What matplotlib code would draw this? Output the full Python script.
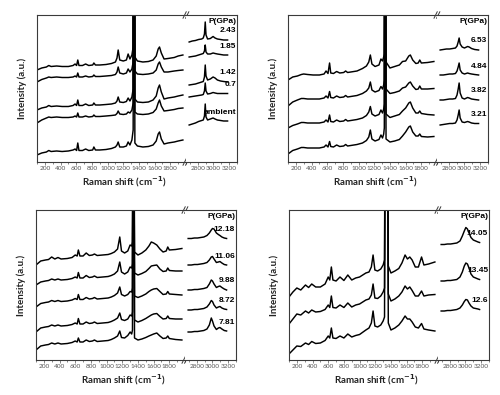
import matplotlib.pyplot as plt
from matplotlib.ticker import MultipleLocator

plt.rcParams['font.family'] = ['Lato', 'DejaVu Sans']

# ---------------- data (wavenumber in cm-1, stacked intensity in a.u.) ----------------
# panel A: 0 - 2.43 GPa
wn_a_lo = [100, 160, 220, 250, 280, 350, 420, 500, 560, 585, 605, 620, 635, 680, 720, 760, 810, 825, 845,
           900, 980, 1050, 1100, 1120, 1135, 1155, 1200, 1240, 1262, 1285, 1310, 1326, 1336, 1348, 1380,
           1450, 1520, 1580, 1620, 1645, 1662, 1685, 1720, 1770, 1850, 1900, 1960]
wn_a_hi = [2690, 2730, 2770, 2810, 2850, 2870, 2885, 2895, 2905, 2925, 2960, 2995, 3020, 3050, 3090, 3130, 3180]
a_243_lo = [92, 94, 95, 96.5, 95.5, 96, 95.5, 95.5, 96.5, 98, 96.5, 102, 96.5, 96.5, 98, 96.5, 97, 99, 97,
            97, 97.5, 98.5, 100, 104, 112, 102, 101, 102, 108, 103, 107, 115, 400, 105, 101,
            100, 100.5, 102, 106, 113, 115, 109, 103, 103.5, 104.5, 106, 107]
a_243_hi = [120, 121, 121.5, 122.5, 123, 124, 128, 140, 127, 123, 123.5, 125.5, 124, 123, 122.5, 122, 122]
a_185_lo = [80, 82.5, 84, 85, 84.5, 85, 84.5, 84.5, 85, 86, 85, 89, 85, 85, 86, 85, 85.5, 87, 85.5,
            85.5, 86, 86.5, 87.5, 90, 95, 89, 88, 89, 93, 90, 93, 100, 400, 91, 88,
            87.5, 88, 89, 92, 98, 100, 95, 90, 90, 91, 91.5, 92]
a_185_hi = [105, 105.5, 106, 107, 108, 108.5, 111, 117, 110, 108, 108, 109, 108.5, 108, 107.5, 107, 107]
a_142_lo = [52, 54, 55, 56.5, 55.5, 56, 55.5, 55.5, 56.5, 58, 56.5, 62, 56.5, 56.5, 58, 56.5, 57, 59, 57,
            57, 57.5, 58, 59, 61, 65, 60, 59.5, 60.5, 64, 61, 65, 73, 400, 63, 60,
            59.5, 60, 62, 66, 74, 77, 70, 63, 64, 65, 66, 67]
a_142_hi = [77, 77.5, 78, 79, 80, 80.5, 85, 97, 86, 82, 83, 85, 84, 82, 81, 80.5, 80]
a_07_lo = [39, 42, 44, 45, 44.5, 45, 44.5, 44.5, 45, 46, 45, 49, 45, 45, 46, 45, 45.5, 47, 45.5,
           45.5, 46, 46.5, 47, 48.5, 51, 48, 47.5, 48, 50, 49, 52, 59, 400, 50, 48,
           47.5, 48, 49.5, 53, 59, 62, 56, 51, 51.5, 52.5, 53.5, 54]
a_07_hi = [65, 65.5, 66, 66.5, 67, 67.5, 71, 79, 71, 68, 68.5, 69.5, 69, 68.5, 68.5, 68.5, 68.5]
a_amb_lo = [7, 9, 10, 11.5, 10.5, 11, 10.5, 11, 12, 13, 11.5, 19, 11.5, 11.5, 13, 11.5, 12, 15, 12,
            12, 12.5, 13.5, 15, 17, 20, 15, 15, 16, 20, 17, 22, 32, 400, 19, 16,
            15, 15.5, 17, 21, 28, 30, 23, 18, 19, 20, 21, 22]
a_amb_hi = [37, 38, 39, 40.5, 41.5, 42, 46, 58, 45, 42, 43, 44, 43, 42, 41.5, 41, 41]
a_labels = ['2.43', '1.85', '1.42', '0.7', 'ambient']

# panel B: 3.21 - 6.53 GPa
wn_b_lo = [100, 160, 220, 270, 300, 350, 420, 500, 560, 585, 610, 630, 645, 680, 720, 760, 810, 835, 860,
           900, 980, 1050, 1100, 1130, 1150, 1170, 1210, 1260, 1285, 1305, 1320, 1328, 1338, 1350, 1400,
           1460, 1520, 1560, 1600, 1640, 1660, 1690, 1730, 1760, 1780, 1800, 1880, 1960]
wn_b_hi = [2690, 2730, 2770, 2810, 2850, 2885, 2905, 2920, 2932, 2945, 2970, 3000, 3040, 3060, 3090, 3130, 3180]
b_653_lo = [82, 85, 86, 87.5, 88, 87.5, 87, 87, 88, 91, 88.5, 99, 89, 88.5, 90.5, 89, 89.5, 91, 89.5,
            90, 91, 93.5, 96, 100, 107, 98, 95.5, 97, 103, 101, 105, 108, 400, 100, 94,
            95.5, 97, 100.5, 101, 106, 107, 102, 98.5, 99, 102, 99, 99.5, 100.5]
b_653_hi = [112, 112.5, 113, 113, 113.5, 114, 116, 120, 124, 118, 115, 114, 115.5, 115, 113.5, 112.5, 112]
b_484_lo = [56, 60, 62, 63.5, 63.5, 63, 63, 63, 64, 66, 64, 70.5, 64.5, 64, 66, 64.5, 65, 66.5, 65,
            65.5, 66.5, 68.5, 71, 74, 80, 72, 70, 71.5, 75.5, 73, 77, 82, 400, 73, 68.5,
            69.5, 71, 74, 75, 79, 80, 76, 72.5, 73, 76, 73, 73, 73.5]
b_484_hi = [87, 87, 87.5, 88, 88, 88.5, 91, 95, 99, 92, 89, 88, 89, 88.5, 88, 87.5, 87]
b_382_lo = [34, 36.5, 38, 39.5, 39.5, 39, 39, 39, 40, 42, 40, 47, 40.5, 40, 42, 40.5, 41, 42.5, 41,
            41.5, 42.5, 44, 46.5, 50, 55.5, 48, 46, 47.5, 52, 49, 53, 58, 400, 48, 44.5,
            46, 47.5, 51, 54, 59, 60, 54, 49, 49, 51, 48.5, 47.5, 47]
b_382_hi = [62, 62, 62.5, 63, 63, 63.5, 67, 73, 79, 69, 64, 63, 64.5, 64, 63, 62.5, 62]
b_321_lo = [8, 11.5, 13, 14.5, 14.5, 14, 14, 14, 15, 17, 15, 20.5, 15.5, 15, 17, 15.5, 16, 17.5, 16,
            16.5, 17.5, 19, 21.5, 25, 32, 23, 21, 22.5, 27, 24, 28, 34, 400, 23, 20,
            21, 22.5, 26, 30, 35, 36, 30, 26, 26, 28, 25.5, 25, 25.5]
b_321_hi = [37, 37.5, 38, 38.5, 38.5, 39, 42, 47, 52, 44, 40, 39.5, 40.5, 40, 39, 38.5, 38.5]
b_labels = ['6.53', '4.84', '3.82', '3.21']

# panel C: 7.81 - 12.18 GPa
wn_c_lo = [100, 160, 220, 260, 300, 340, 380, 420, 500, 560, 600, 625, 640, 660, 700, 740, 780, 820, 845,
           880, 950, 1020, 1060, 1100, 1140, 1168, 1190, 1230, 1270, 1300, 1320, 1330, 1342, 1356, 1400,
           1450, 1500, 1540, 1570, 1600, 1640, 1680, 1720, 1760, 1780, 1800, 1880, 1960]
wn_c_hi = [2690, 2730, 2770, 2810, 2850, 2890, 2930, 2960, 2985, 3000, 3020, 3050, 3075, 3095, 3120, 3150, 3180]
c_1218_lo = [95, 99, 100, 100.5, 103, 101, 102.5, 101, 101.5, 102.5, 105, 104, 110, 104, 104, 107, 104.5, 105, 106,
             104.5, 105, 105.5, 106.5, 108, 111, 123, 109, 107, 109, 115, 114, 118, 400, 108, 105,
             107, 110, 114, 118, 117, 115, 111, 108, 109, 113, 110, 110.5, 111.5]
c_1218_hi = [121.5, 121.5, 122, 122, 122.5, 123, 124.5, 127, 130, 131.5, 131, 127, 125.5, 124.5, 123, 122, 121.5]
c_1106_lo = [75, 78, 79, 79.5, 81, 80, 81, 80, 80.5, 81.5, 83, 82, 87.5, 82, 82, 84.5, 82.5, 83, 84,
             82.5, 83, 83.5, 84.5, 86, 89, 98, 88, 86, 88, 93, 92, 96, 400, 87, 85,
             86.5, 88.5, 91.5, 94, 94.5, 95, 91, 88.5, 89, 92, 89.5, 89, 89]
c_1106_hi = [95, 95, 95.5, 95.5, 96, 96.5, 97.5, 100, 103, 103.5, 101, 97.5, 98, 98.5, 97, 95.5, 95]
c_988_lo = [53, 56.5, 57.5, 58, 59.5, 58.5, 59.5, 58.5, 59, 60, 61.5, 60.5, 65.5, 60.5, 60.5, 62.5, 61, 61.5, 62.5,
            61, 61.5, 62, 63, 64.5, 67, 73, 65.5, 64, 65.5, 68.5, 68, 72, 400, 64, 62.5,
            64, 66, 68.5, 70, 71, 71.5, 68.5, 65.5, 66, 68.5, 66, 65.5, 65]
c_988_hi = [70, 70, 70.5, 70.5, 71, 71.5, 72.5, 76, 80, 79, 76, 72.5, 73.5, 74, 72.5, 71, 70]
c_872_lo = [28, 32, 33, 33.5, 35, 34, 35, 34, 34.5, 35.5, 37, 36, 41.5, 36, 36, 38, 36.5, 37, 38,
            36.5, 37, 37.5, 38.5, 40, 42, 47, 40.5, 39.5, 41, 45, 44, 48, 400, 40, 38,
            39.5, 41.5, 43.5, 45, 46, 46.5, 43.5, 41, 41.5, 44, 41.5, 41, 41]
c_872_hi = [50, 50, 50.5, 50.5, 51, 51.5, 53, 56, 59.5, 58.5, 55, 52, 53, 53.5, 52, 51, 50.5]
c_781_lo = [10, 14, 15, 15.5, 17, 16, 17, 16, 16.5, 17.5, 19, 18, 22, 18, 18, 20, 18.5, 19, 20,
            18.5, 19, 19.5, 20.5, 22, 24, 29, 22.5, 22, 24.5, 28, 26, 30, 400, 22, 20,
            21, 22.5, 24, 25, 26, 27, 24, 21.5, 22, 24, 21.5, 20.5, 20]
c_781_hi = [28, 28, 28.5, 28.5, 29, 29.5, 31, 35, 42, 39, 34, 30.5, 32, 32.5, 31, 29.5, 29]
c_labels = ['12.18', '11.06', '9.88', '8.72', '7.81']

# panel D: 12.6 - 14.05 GPa
wn_d_lo = [100, 150, 200, 250, 310, 350, 390, 440, 500, 560, 600, 620, 640, 660, 700, 750, 800, 850, 900,
           950, 1000, 1080, 1120, 1150, 1172, 1195, 1230, 1270, 1300, 1318, 1330, 1350, 1366, 1400, 1450,
           1500, 1540, 1580, 1610, 1640, 1670, 1710, 1750, 1790, 1820, 1880, 1960]
wn_d_hi = [2690, 2730, 2770, 2810, 2850, 2890, 2930, 2960, 2985, 3005, 3025, 3045, 3070, 3100, 3130, 3160, 3180]
d_1405_lo = [63, 68, 72, 70, 75, 72.5, 76, 73, 73, 76, 83, 80, 93, 80, 79, 83, 79.5, 85, 80,
             82, 83, 87, 88, 93, 105, 90, 89, 91, 95, 100, 400, 400, 94, 87, 89,
             91.5, 97, 105, 101, 103, 100, 93, 93, 103, 95, 96, 98]
d_1405_hi = [115.5, 115.5, 116, 116, 116.5, 117, 119, 124, 129, 132.5, 131, 127, 122.5, 120, 119, 118, 117.5]
d_1345_lo = [36, 41, 46, 45, 49, 47, 50, 48, 48.5, 50.5, 55, 52.5, 64, 52.5, 52, 55, 52.5, 57, 53,
             55, 56, 60, 61, 65, 76, 62, 61.5, 64, 68, 72, 400, 400, 66, 59, 61,
             64, 68, 74, 71, 73, 69.5, 64, 64, 69, 64, 65, 65.5]
d_1345_hi = [79, 79, 79.5, 79.5, 80, 80.5, 83, 88, 94, 97, 96, 92, 86, 83, 82, 81, 80.5]
d_126_lo = [6, 10, 14, 13.5, 17, 15.5, 18.5, 16.5, 17, 19.5, 24, 22, 32, 22, 21.5, 24, 22, 26, 23,
            24.5, 25.5, 30, 32, 37, 49, 34, 33, 35, 39, 43, 400, 400, 37, 30, 32,
            35, 39, 44, 41, 41, 38, 33, 32, 36.5, 31, 30, 29]
d_126_hi = [49, 49, 49.5, 49.5, 50, 50.5, 52, 55, 58.5, 60.5, 60, 57, 54, 52, 51.5, 51, 50.5]
d_labels = ['14.05', '13.45', '12.6']

# ---------------- layout ----------------
W, H = 500, 395
xlim_lo = (100, 2000)
xlim_hi = (2650, 3300)

panels = [
    # (left px, top px, bottom px, ymax, lo grid, hi grid, spectra)
    (37, 15, 162, 147, wn_a_lo, wn_a_hi,
     list(zip(a_labels, [a_243_lo, a_185_lo, a_142_lo, a_07_lo, a_amb_lo],
              [a_243_hi, a_185_hi, a_142_hi, a_07_hi, a_amb_hi]))),
    (288, 15, 162, 147, wn_b_lo, wn_b_hi,
     list(zip(b_labels, [b_653_lo, b_484_lo, b_382_lo, b_321_lo],
              [b_653_hi, b_484_hi, b_382_hi, b_321_hi]))),
    (36, 210, 360, 150, wn_c_lo, wn_c_hi,
     list(zip(c_labels, [c_1218_lo, c_1106_lo, c_988_lo, c_872_lo, c_781_lo],
              [c_1218_hi, c_1106_hi, c_988_hi, c_872_hi, c_781_hi]))),
    (289, 210, 360, 150, wn_d_lo, wn_d_hi,
     list(zip(d_labels, [d_1405_lo, d_1345_lo, d_126_lo],
              [d_1405_hi, d_1345_hi, d_126_hi]))),
]

fig = plt.figure(figsize=(W / 100, H / 100), dpi=100)

span = (xlim_lo[1] - xlim_lo[0]) + (xlim_hi[1] - xlim_hi[0])
total_px = 200
w_lo = total_px * (xlim_lo[1] - xlim_lo[0]) / span
w_hi = total_px - w_lo
spine_c = '#3a3a3a'
tick_c = '#555555'

for left, top, bottom, ymax, wlo, whi, spectra in panels:
    h = bottom - top
    ax_lo = fig.add_axes([left / W, (H - bottom) / H, w_lo / W, h / H])
    ax_hi = fig.add_axes([(left + w_lo) / W, (H - bottom) / H, w_hi / W, h / H])

    for name, ylo, yhi in spectra:
        ax_lo.plot(wlo, ylo, color='black', lw=1.05)
        ax_hi.plot(whi, yhi, color='black', lw=1.05)
        ax_hi.text(xlim_hi[1] - 12, yhi[-1] + 9, name, ha='right', va='center',
                   fontsize=6, fontweight='bold', family=['Liberation Sans', 'DejaVu Sans'])
    ax_hi.text(xlim_hi[1] - 8, 0.955 * ymax, 'P(GPa)', ha='right', va='center',
               fontsize=6, fontweight='bold', family=['Liberation Sans', 'DejaVu Sans'])

    ax_lo.set_xlim(*xlim_lo)
    ax_hi.set_xlim(*xlim_hi)
    for ax in (ax_lo, ax_hi):
        ax.set_ylim(0, ymax)
        ax.set_yticks([])
        for s in ax.spines.values():
            s.set_color(spine_c)
            s.set_linewidth(0.8)
        ax.tick_params(axis='x', which='major', length=2, width=0.5, pad=1.2,
                       labelsize=4.6, colors=tick_c)
        ax.tick_params(axis='x', which='minor', length=1.3, width=0.5, colors=tick_c)
    ax_lo.spines['right'].set_visible(False)
    ax_hi.spines['left'].set_visible(False)
    ax_lo.set_xticks([200, 400, 600, 800, 1000, 1200, 1400, 1600, 1800])
    ax_lo.xaxis.set_minor_locator(MultipleLocator(100))
    ax_hi.set_xticks([2800, 3000, 3200])
    ax_hi.xaxis.set_minor_locator(MultipleLocator(100))

    # axis-break marks
    for y0 in (0, 1):
        for dx in (0.0, 2.6):
            ax_lo.plot([1 + (dx - 3.0) / w_lo, 1 + (dx + 0.2) / w_lo],
                       [y0 - 3.2 / h, y0 + 3.2 / h],
                       transform=ax_lo.transAxes, color=spine_c, lw=0.7, clip_on=False)

    fig.text((left - 15) / W, (H - (top + bottom) / 2) / H, 'Intensity (a.u.)',
             rotation=90, ha='center', va='center', fontsize=7, fontweight='bold', color='#222222')
    fig.text((left + 87) / W, (H - bottom - 20) / H, 'Raman shift (cm$^{\\mathbf{-1}}$)',
             ha='center', va='center', fontsize=7, fontweight='bold', color='#222222')

fig.savefig('out.png', dpi=100)
